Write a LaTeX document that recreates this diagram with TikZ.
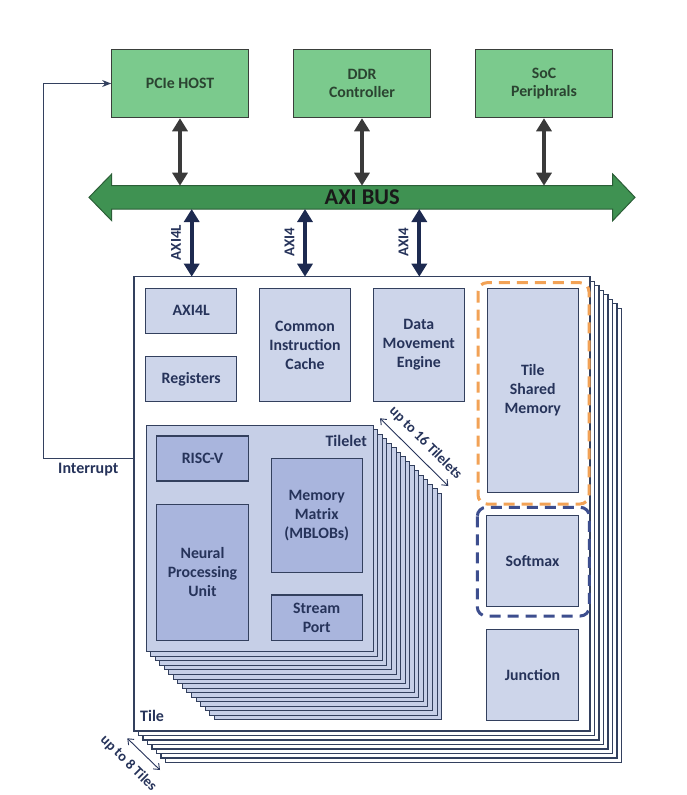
\documentclass[tikz,border=0pt]{standalone}
\usepackage{fontspec}
\setmainfont{Carlito}
\usetikzlibrary{arrows.meta,calc}
\definecolor{gfill}{HTML}{7BCA8D}
\definecolor{gtext}{HTML}{2B4431}
\definecolor{gborder}{HTML}{3A3F3B}
\definecolor{busfill}{HTML}{3F9252}
\definecolor{busborder}{HTML}{2B5E37}
\definecolor{darkarrow}{HTML}{3A3A3A}
\definecolor{navyarrow}{HTML}{1D2A50}
\definecolor{bdr}{HTML}{33405E}
\definecolor{lblue}{HTML}{CDD5EA}
\definecolor{tfill}{HTML}{C6CFE7}
\definecolor{dblue}{HTML}{A9B5DD}
\definecolor{ntext}{HTML}{26335A}
\definecolor{orangedash}{HTML}{F2A256}
\definecolor{bluedash}{HTML}{3D4E8E}
\begin{document}
\begin{tikzpicture}[x=1pt,y=-1pt,
  hostbox/.style={draw=gborder, fill=gfill, line width=1.1pt, text=gtext, align=center,
    minimum width=136.6pt, minimum height=68.4pt, inner sep=0pt,
    font=\fontsize{15.8}{18.5}\selectfont\bfseries},
  blk/.style={draw=bdr, fill=lblue, line width=1.1pt, text=ntext, align=center, inner sep=0pt,
    font=\fontsize{15.8}{19}\selectfont\bfseries},
  dblk/.style={blk, fill=dblue},
  garrow/.style={line width=4pt, draw=darkarrow,
    {Triangle[width=15pt,length=13pt]}-{Triangle[width=15pt,length=13pt]}},
  narrow/.style={line width=4pt, draw=navyarrow,
    {Triangle[width=15pt,length=13pt]}-{Triangle[width=15pt,length=13pt]}},
  lbl/.style={text=ntext, font=\fontsize{15}{17}\selectfont\bfseries, inner sep=0pt},
  thinarrow/.style={line width=0.9pt, draw=ntext, {Straight Barb[length=5pt,width=8pt]}-{Straight Barb[length=5pt,width=8pt]}},
  tileframe/.style={draw=bdr, fill=white, line width=1.2pt},
  tiletframe/.style={draw=bdr, fill=tfill, line width=1pt}
]
\useasboundingbox (0,0) rectangle (686,795);

% ---------- host boxes ----------
\node[hostbox] (pcie) at (180,83.5) {PCIe HOST};
\node[hostbox] (ddr) at (362,83.5) {DDR\\Controller};
\node[hostbox] (soc) at (544,83.5) {SoC\\Periphrals};

% ---------- AXI bus ----------
\fill[busfill, draw=busborder, line width=1pt]
  (89,197.35) -- (111.7,174) -- (111.7,185.7) -- (612.7,185.7) -- (612.7,174)
  -- (635,197.35) -- (612.7,220.7) -- (612.7,209) -- (111.7,209) -- (111.7,220.7) -- cycle;
\node[minimum width=501pt, minimum height=23.3pt, inner sep=0pt, outer sep=0pt,
  font=\fontsize{22.5}{24}\selectfont\bfseries, text=black!90] (bus) at (362.2,197.35) {AXI BUS};

\draw[garrow] (pcie.south) -- (pcie.south |- bus.north);
\draw[garrow] (ddr.south) -- (ddr.south |- bus.north);
\draw[garrow] (soc.south) -- (soc.south |- bus.north);

% ---------- tile stack ----------
\foreach \k in {7,6,...,1}{
  \draw[tileframe] ($(134,276.7)+(4.5*\k,4.5*\k)$) rectangle ($(590,731)+(4.5*\k,4.5*\k)$);
}
\node[tileframe, minimum width=456pt, minimum height=454.3pt, inner sep=0pt, outer sep=0pt,
  anchor=north west] (tile) at (134,276.7) {};

% AXI links to tile
\coordinate (a1) at (191.7,276.7);
\coordinate (a2) at (305,276.7);
\coordinate (a3) at (419.3,276.7);
\draw[narrow] (a1 |- bus.south) -- (a1);
\draw[narrow] (a2 |- bus.south) -- (a2);
\draw[narrow] (a3 |- bus.south) -- (a3);
\node[lbl, rotate=90] (l1) at (176,242.5) {AXI4L};
\node[lbl, rotate=90] (l2) at (289.5,242.5) {AXI4};
\node[lbl, rotate=90] (l3) at (403.5,242.5) {AXI4};

% ---------- tile contents ----------
\node[blk, minimum width=91pt, minimum height=45pt] (axil) at (191.2,310.8) {AXI4L};
\node[blk, minimum width=91pt, minimum height=45pt] (regs) at (191.2,379.2) {Registers};
\node[blk, minimum width=91.4pt, minimum height=113.4pt] (cic) at (305,345) {Common\\Instruction\\Cache};
\node[blk, minimum width=91pt, minimum height=113.4pt] (dme) at (418.8,345) {Data\\Movement\\Engine};
\node[blk, minimum width=91pt, minimum height=204.3pt] (tsm) at (532.8,390.2) {Tile\\Shared\\Memory};
\node[blk, minimum width=91.6pt, minimum height=91pt] (smax) at (532.5,561.2) {Softmax};
\node[blk, minimum width=91.6pt, minimum height=90.7pt] (junc) at (532.5,674.7) {Junction};

\draw[orangedash, line width=3pt, dash pattern=on 11pt off 7pt, rounded corners=9pt]
  (478,282.7) rectangle (589,504);
\draw[bluedash, line width=3pt, dash pattern=on 11pt off 7pt, rounded corners=9pt]
  (477.3,507.3) rectangle (589.3,616);

% ---------- tilelet stack ----------
\foreach \k in {15,14,...,1}{
  \draw[tiletframe] ($(146,425)+(4.55*\k,4.55*\k)$) rectangle ($(373.3,651.7)+(4.55*\k,4.55*\k)$);
}
\node[tiletframe, minimum width=227.3pt, minimum height=226.7pt, inner sep=0pt, outer sep=0pt,
  anchor=north west] (tilelet) at (146,425) {};
\node[lbl, font=\fontsize{16}{18}\selectfont\bfseries, anchor=east] (tlname) at (367,441) {Tilelet};

\node[dblk, minimum width=91.6pt, minimum height=45pt] (risc) at (202.5,458.5) {RISC-V};
\node[dblk, minimum width=91.6pt, minimum height=135.7pt] (npu) at (202.5,572.2) {Neural\\Processing\\Unit};
\node[dblk, minimum width=91.3pt, minimum height=114pt] (mm) at (316.7,515.3) {Memory\\Matrix\\(MBLOBs)};
\node[dblk, minimum width=91.3pt, minimum height=45.7pt] (sp) at (316.7,617.8) {Stream\\Port};

\node[lbl, font=\fontsize{16}{18}\selectfont\bfseries, anchor=west] (tname) at (140,716) {Tile};

% ---------- count arrows ----------
\coordinate (t16a) at (380,418.3);
\coordinate (t16b) at (448.3,486);
\draw[thinarrow] (t16a) -- (t16b);
\node[lbl, font=\fontsize{14.5}{17}\selectfont\bfseries, rotate=-45] (t16l) at (425.5,443) {up to 16 Tilelets};

\coordinate (t8a) at (127.3,738.3);
\coordinate (t8b) at (160,770);
\draw[thinarrow] (t8a) -- (t8b);
\node[lbl, font=\fontsize{14.5}{17}\selectfont\bfseries, rotate=-45] (t8l) at (128.5,763.5) {up to 8 Tiles};

% ---------- interrupt ----------
\coordinate (intr) at (tile.west |- 0,458.3);
\coordinate (icorner) at (43.3,458.3);
\draw[draw=bdr, line width=1.1pt, -{Stealth[length=9pt,width=7pt]}]
  (intr) -- (icorner) |- (pcie.west);
\node[lbl, font=\fontsize{16}{18}\selectfont\bfseries] (intlbl) at (88.3,470) {Interrupt};
\end{tikzpicture}
\end{document}
